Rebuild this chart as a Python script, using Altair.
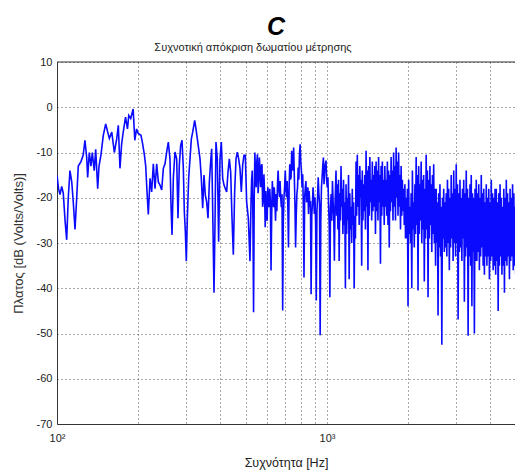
import altair as alt
import numpy as np
import pandas as pd

# ---- data ----
seg1_freq = [100, 101.3, 102.6, 104.1, 105.5, 107.1, 108.6, 110.1, 111.7, 113.4, 114.9, 116.6, 118.3,
             119.9, 122.7, 125.1, 126.9, 128.8, 129.9, 131.7, 133.6, 135.1, 137.4, 139.1, 141.5, 143.1,
             145.5, 148.4, 151.5, 154.1, 156.3, 159.5, 163.1, 166.4, 168.7, 171.1, 173.5, 175.9, 179.4,
             182.4, 184.4, 187.5, 191.4, 194.2, 197.1, 199.9, 204.6, 206.9, 210.6, 213.1, 215.4, 217.9, 221.1]
seg1_db = [-15, -18, -19.3, -17.5, -19, -25, -29.3, -20, -14, -16.5, -21, -27, -20, -13, -12, -10.5,
           -7.3, -11, -15.5, -10, -13, -10, -14, -9.3, -18, -13, -10.5, -6.2, -3.7, -5.5, -6.9, -5.5,
           -10, -7, -4, -13.5, -8.2, -5.5, -2.2, -4.8, -1.8, -2.5, -0.4, -7.3, -4.8, -5.8, -6.2, -7.6,
           -10.4, -13, -18.5, -23.7, -15.7]

seg2_freq = [224.2, 227.4, 230.7, 234, 237.3, 240.7, 244.2, 247.7, 251.2, 254.8, 258.4, 262.1, 264.4,
             266.7, 269.7, 273.5, 277.5, 280.6, 283.8, 287.1, 290.4, 293.7, 296.2, 298.8, 301.3, 303.9,
             307.4, 310.9, 314.5, 318.1, 323.6, 327.2, 331, 334.8, 338.6, 342.4, 346.4, 350.3, 354.3,
             358.4, 362.5, 366.7, 370.8, 374, 377.2, 381.5, 384.7, 388, 392.5, 396.9, 401.5, 406.1,
             410.8, 415.5, 420.3, 425, 429.9, 434.8, 439.8, 444.8, 449.9, 455, 460.3, 465.5, 470.8,
             476.2, 481.6, 487.2, 492.7, 498.3, 504, 511.2, 518.5]
seg2_db = [-18.7, -12.5, -18, -12.5, -16.5, -17.2, -18.3, -13.5, -12.5, -9.9, -7.7, -11.4, -21.6,
           -28.2, -15.7, -9.9, -11.4, -24.5, -12.8, -8.4, -7.3, -13.5, -23, -27.5, -34, -24.5, -15.7,
           -11.4, -7, -5.5, -2.9, -4.8, -7, -9.2, -11.4, -15.7, -22.3, -15, -19.4, -20.9, -24.5,
           -16.5, -12, -9.2, -22.3, -41, -26, -7.7, -11.4, -29.7, -11.4, -7.7, -15.7, -17.2, -18,
           -18.7, -14.3, -11.4, -14.3, -24.5, -32.6, -18.7, -11.4, -9.9, -11.4, -13.5, -18.7, -12.8,
           -10.6, -10.6, -20.9, -24.5, -34]

# 523 Hz .. 1071 Hz, evenly spaced on the log axis
seg3_band = (523, 1071)
seg3_db = [-21.4, -16, -14, -25, -45.3, -20, -10, -15, -17.7, -12, -10.4, -19, -16.3, -11.1, -14,
           -17.7, -13, -12.6, -22, -20.7, -14.8, -19, -26.5, -18.5, -23, -25.1, -17.7, -21, -22.1,
           -18, -20.7, -36.1, -24, -16.3, -19, -22.1, -17.7, -21, -25.1, -19.2, -23, -17, -14, -18,
           -19.9, -16.3, -20, -22.1, -19.2, -44.9, -25.1, -20, -17.7, -14, -18, -19.9, -16.3, -22,
           -31, -17.7, -12.6, -16, -15.5, -9.6, -13, -14, -8.9, -15, -21.4, -31, -24, -19.2, -17.7,
           -13.3, -16, -10.4, -8.2, -12, -14, -17.7, -14.8, -22, -37.6, -20, -17.7, -16.3, -21,
           -20.7, -17.7, -23.6, -18.5, -22, -20.7, -41.3, -24, -21.4, -17.7, -20, -23.6, -19.9, -26,
           -42.7, -23, -19.9, -15.5, -19, -21.4, -50.4, -25, -17.7, -15.5, -13, -11.1, -17, -14,
           -12.6, -11.8, -16, -17.7, -15.5, -21.4, -26, -42, -22, -19.2, -25.1, -16.3, -20.7, -24,
           -33.9, -21.4]

# 1080 Hz .. 5000 Hz, evenly spaced on the log axis
seg4_band = (1080, 5000)
seg4_db = [-14, -24, -17, -27, -16, -34, -19, -25, -13, -22, -18, -28, -16, -26, -21, -40,
           -17, -28, -20, -25, -15, -38, -19, -27, -22, -30, -18, -26, -21, -40, -24, -29,
           -12, -24, -10.5, -22, -15, -26, -13, -20, -16, -35, -14, -25, -17, -23, -15, -27,
           -9.6, -22, -14, -36, -13, -24, -11, -21, -16, -25, -12, -23, -15, -22, -13, -28,
           -12, -23, -14, -25, -11, -21, -15, -34.6, -13, -24, -12, -22, -16, -26, -13, -22,
           -16, -24, -12, -26, -14, -31, -15, -23, -11, -21, -14, -25, -10, -22, -13, -25,
           -8.9, -20, -12, -24, -10, -22, -15, -27, -13, -24, -16, -23, -18, -26, -17, -29,
           -20, -29, -18, -44, -16, -28, -22, -30, -19, -40, -14, -27, -21, -31, -17, -28,
           -11, -26, -15, -40.5, -13, -28, -17, -25, -12, -30, -16, -27, -15, -38.5, -18, -29,
           -10.5, -27, -14, -42, -16, -29, -13, -26, -17, -32, -15, -28, -12.6, -30, -18, -35,
           -18, -30, -21, -46, -19, -31, -17, -33, -22, -52.5, -20, -29, -18, -32, -21, -31,
           -19, -33, -16, -30, -18, -36, -20, -31, -15, -29, -19, -34, -14, -30, -18, -33,
           -12.6, -30, -17, -46.9, -19, -32, -16, -31, -20, -34, -18, -29, -16, -43, -19, -33,
           -14, -31, -18, -50.5, -20, -33, -17, -35, -15, -44, -19, -32, -20, -50, -18, -34,
           -16, -34, -19, -32, -17, -36, -20, -33, -15, -31, -19, -35, -18, -37, -21, -33,
           -17, -35, -20, -33, -18, -38, -21, -34, -16, -33, -19, -36, -20, -35, -18, -37,
           -18, -34, -21, -45, -19, -35, -17, -33, -20, -37, -22, -35, -18, -41, -20, -34,
           -16, -35, -19, -33, -21, -38, -18, -34, -20, -33, -17, -36, -19, -35, -22, -37]

x_grid = [100, 200, 300, 400, 500, 600, 700, 800, 900, 1000, 2000, 3000, 4000]
y_ticks = [-70, -60, -50, -40, -30, -20, -10, 0, 10]

title_main = "C"
title_sub = "Συχνοτική απόκριση δωματίου μέτρησης"
x_title = "Συχνότητα [Hz]"
y_title = "Πλατος [dB (Volts/Volts)]"

# ---- build table ----
freq = (seg1_freq + seg2_freq
        + list(np.geomspace(seg3_band[0], seg3_band[1], len(seg3_db)))
        + list(np.geomspace(seg4_band[0], seg4_band[1], len(seg4_db))))
db = seg1_db + seg2_db + seg3_db + seg4_db
df = pd.DataFrame({"f": freq, "db": db})

FONT = "Liberation Sans"
W, H = 458, 362

x_scale = alt.Scale(type="log", domain=[100, 4970], nice=False)
y_scale = alt.Scale(domain=[-70, 10], nice=False)

x_axis = alt.Axis(values=x_grid, title=x_title,
                  labelExpr="datum.value == 100 ? '10²' : (datum.value == 1000 ? '10³' : '')",
                  grid=True, gridDash=[1, 3], gridColor="#444", gridOpacity=0.9,
                  ticks=False, labelPadding=8, labelFontSize=11, labelFont=FONT, labelColor="#222",
                  domainColor="#333", titleFont=FONT, titleFontSize=12.5, titleFontWeight="normal",
                  titleColor="#222", titleY=38, titleBaseline="middle", labelFlush=False)
y_axis = alt.Axis(values=y_ticks, title=y_title, labelExpr="'' + datum.value",
                  grid=True, gridDash=[1, 3], gridColor="#444", gridOpacity=0.9,
                  ticks=False, labelPadding=5, labelFontSize=11, labelFont=FONT, labelColor="#222",
                  domainColor="#333", titleFont=FONT, titleFontSize=13, titleFontWeight="normal",
                  titleColor="#333", titleX=-39, titleY=H / 2, titleAngle=-90,
                  titleBaseline="middle", titleAlign="center")

line = alt.Chart(df).mark_line(color="#0a0aff", strokeWidth=1.6, clip=True).encode(
    x=alt.X("f:Q", scale=x_scale, axis=x_axis),
    y=alt.Y("db:Q", scale=y_scale, axis=y_axis),
)

top = alt.Chart(pd.DataFrame({"y": [10]})).mark_rule(color="#333", strokeWidth=1).encode(
    y=alt.Y("y:Q", scale=y_scale), x=alt.value(0), x2=alt.value(W)
)

t1 = alt.Chart(pd.DataFrame({"t": [title_main]})).mark_text(
    font=FONT, fontSize=25, fontWeight="bold", fontStyle="italic", color="#000",
    align="center", baseline="alphabetic"
).encode(text="t:N", x=alt.value(219), y=alt.value(-27))

t2 = alt.Chart(pd.DataFrame({"t": [title_sub]})).mark_text(
    font=FONT, fontSize=11, color="#222", align="center", baseline="alphabetic"
).encode(text="t:N", x=alt.value(196), y=alt.value(-11))

chart = alt.layer(line, top, t1, t2).properties(
    width=W, height=H,
    autosize=alt.AutoSizeParams(type="none"),
    padding={"left": 57, "top": 62, "right": 0, "bottom": 49},
    background="white",
).configure_view(stroke=None)

chart.save("out.html", embed_options={"renderer": "svg", "actions": False})
